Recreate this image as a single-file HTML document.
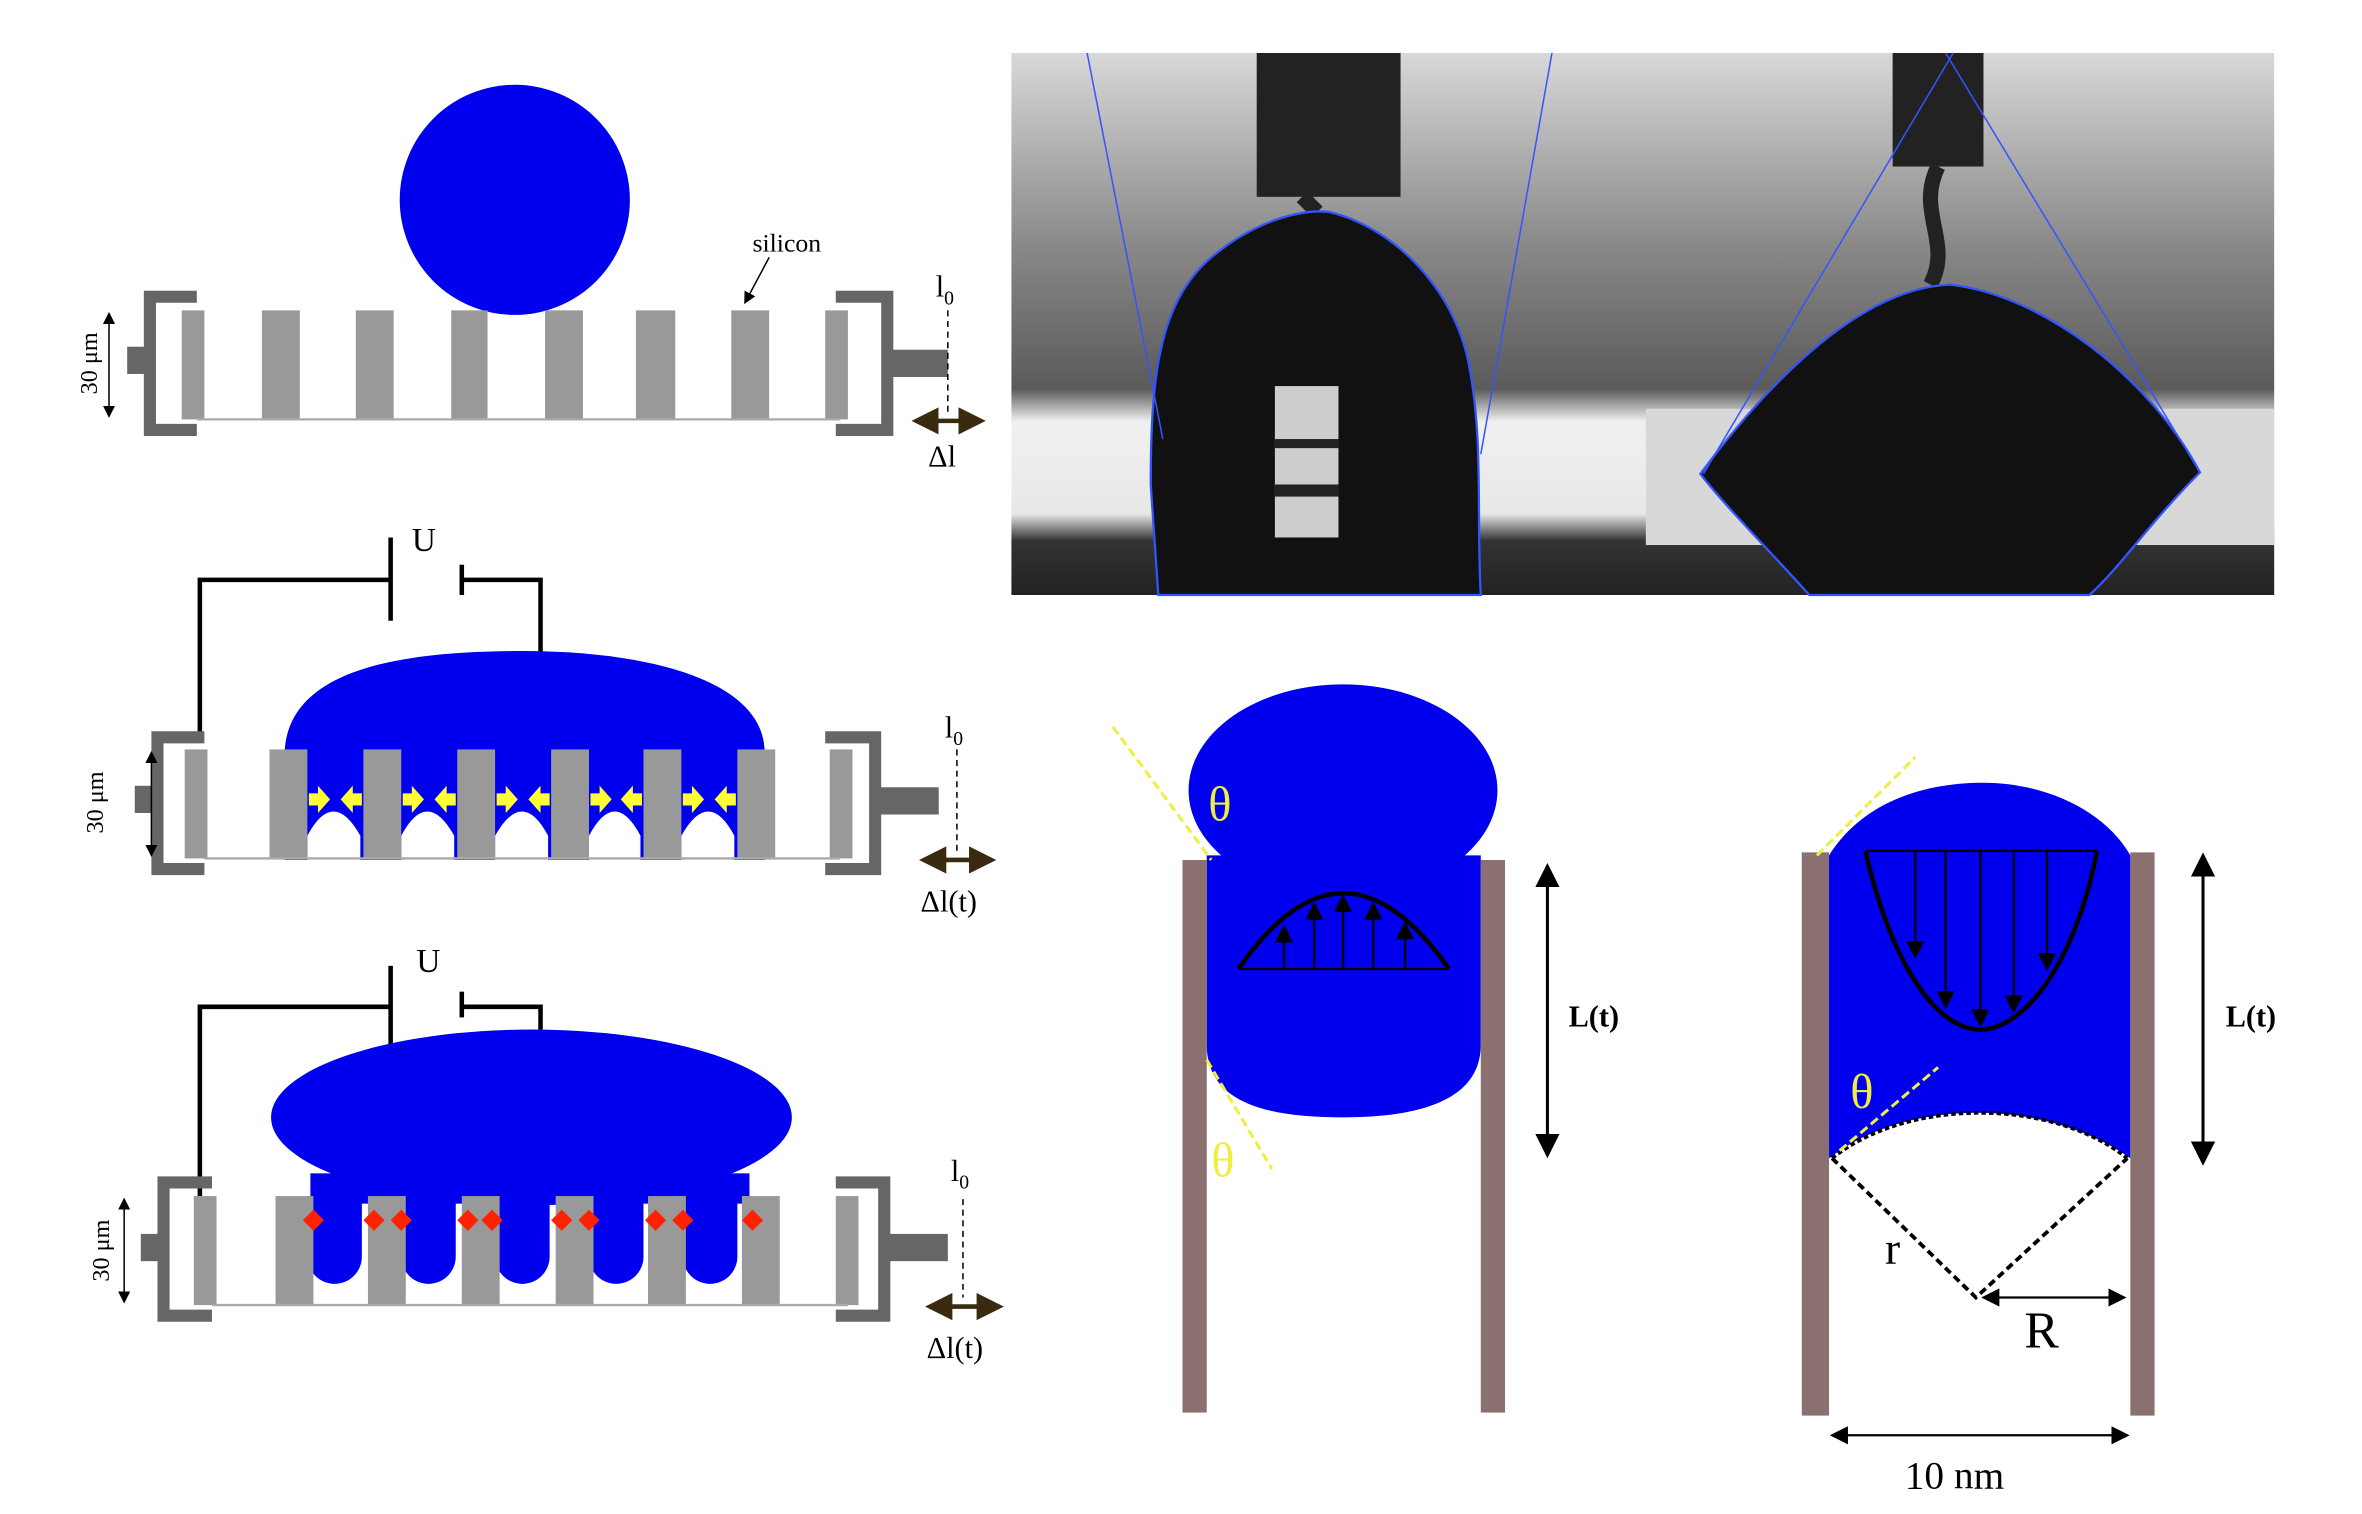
<!DOCTYPE html>
<html><head><meta charset="utf-8"><style>
html,body{margin:0;padding:0;background:#fff;}
svg{display:block;}
text{font-family:"Liberation Serif",serif;}
</style></head><body>
<svg width="2362" height="1514" viewBox="0 0 1560 1000" preserveAspectRatio="none" xmlns="http://www.w3.org/2000/svg">
<defs>
<linearGradient id="bg" x1="0" y1="0" x2="0" y2="1">
<stop offset="0" stop-color="#d8d8d8"/><stop offset="0.35" stop-color="#8a8a8a"/><stop offset="0.62" stop-color="#5a5a5a"/><stop offset="0.68" stop-color="#f0f0f0"/><stop offset="0.85" stop-color="#e8e8e8"/><stop offset="0.9" stop-color="#333"/><stop offset="1" stop-color="#222"/>
</linearGradient>
<marker id="ah" markerWidth="8" markerHeight="8" refX="7" refY="4" orient="auto"><path d="M0,0 L8,4 L0,8 z" fill="#000"/></marker>
<marker id="ahs" markerWidth="8" markerHeight="8" refX="1" refY="4" orient="auto"><path d="M8,0 L0,4 L8,8 z" fill="#000"/></marker>
<marker id="ab" markerWidth="6" markerHeight="6" refX="5" refY="3" orient="auto"><path d="M0,0 L6,3 L0,6 z" fill="#3a2a10"/></marker>
<marker id="abs" markerWidth="6" markerHeight="6" refX="1" refY="3" orient="auto"><path d="M6,0 L0,3 L6,6 z" fill="#3a2a10"/></marker>
</defs>

<!-- Panel 1 -->
<circle cx="340" cy="132" r="76" fill="#0000ee"/>
<g fill="#999">
<rect x="120" y="205" width="15" height="72"/><rect x="173" y="205" width="25" height="72"/><rect x="235" y="205" width="25" height="72"/><rect x="298" y="205" width="24" height="72"/><rect x="360" y="205" width="25" height="72"/><rect x="420" y="205" width="26" height="72"/><rect x="483" y="205" width="25" height="72"/><rect x="545" y="205" width="15" height="72"/>
</g>
<line x1="130" y1="277" x2="555" y2="277" stroke="#aaa" stroke-width="1.5"/>
<path d="M130,192 H95 V288 H130 V280 H103 V200 H130 Z" fill="#666"/>
<rect x="84" y="229" width="12" height="18" fill="#666"/>
<path d="M552,192 H590 V288 H552 V280 H582 V200 H552 Z" fill="#666"/>
<rect x="588" y="231" width="38" height="18" fill="#666"/>
<line x1="626" y1="205" x2="626" y2="272" stroke="#000" stroke-dasharray="4,3"/>
<line x1="605" y1="278" x2="648" y2="278" stroke="#3a2a10" stroke-width="3" marker-end="url(#ab)" marker-start="url(#abs)"/>
<text x="618" y="196" font-size="20">l<tspan font-size="13" dy="5">0</tspan></text>
<text x="613" y="308" font-size="20">Δl</text>
<text x="497" y="166" font-size="17">silicon</text>
<line x1="508" y1="170" x2="492" y2="200" stroke="#000" marker-end="url(#ah)"/>
<line x1="72" y1="207" x2="72" y2="275" stroke="#000" marker-end="url(#ah)" marker-start="url(#ahs)"/>
<text transform="translate(64,240) rotate(-90)" font-size="16" text-anchor="middle">30 μm</text>

<!-- Panel 2 -->
<path d="M132,490 V383 H258 M305,383 H357 V432" fill="none" stroke="#000" stroke-width="3"/>
<line x1="258" y1="355" x2="258" y2="410" stroke="#000" stroke-width="3"/>
<line x1="305" y1="373" x2="305" y2="393" stroke="#000" stroke-width="3"/>
<text x="272" y="364" font-size="22">U</text>
<path d="M188,497 C190,440 270,430 345,430 C430,430 505,450 505,497 Z" fill="#0000ee"/>
<rect x="188" y="495" width="317" height="73" fill="#0000ee"/>
<g fill="#fff">
<path d="M203,568 V552 Q220,520 238,552 V568Z"/><path d="M265,568 V552 Q282,520 300,552 V568Z"/><path d="M327,568 V552 Q345,520 362,552 V568Z"/><path d="M389,568 V552 Q406,520 423,552 V568Z"/><path d="M450,568 V552 Q468,520 485,552 V568Z"/>
</g>
<g fill="#999">
<rect x="122" y="495" width="15" height="72"/><rect x="178" y="495" width="25" height="72"/><rect x="240" y="495" width="25" height="72"/><rect x="302" y="495" width="25" height="72"/><rect x="364" y="495" width="25" height="72"/><rect x="425" y="495" width="25" height="72"/><rect x="487" y="495" width="25" height="72"/><rect x="548" y="495" width="15" height="72"/>
</g>
<line x1="135" y1="567" x2="555" y2="567" stroke="#aaa" stroke-width="1.5"/>
<path d="M135,483 H100 V578 H135 V570 H108 V491 H135 Z" fill="#666"/>
<rect x="89" y="519" width="12" height="18" fill="#666"/>
<path d="M545,483 H582 V578 H545 V570 H574 V491 H545 Z" fill="#666"/>
<rect x="580" y="520" width="40" height="18" fill="#666"/>
<g fill="#ffff33">
<path d="M204,524 h6 v-5 l8,9 l-8,9 v-5 h-6z"/><path d="M239,524 h-6 v-5 l-8,9 l8,9 v-5 h6z"/>
<path d="M266,524 h6 v-5 l8,9 l-8,9 v-5 h-6z"/><path d="M301,524 h-6 v-5 l-8,9 l8,9 v-5 h6z"/>
<path d="M328,524 h6 v-5 l8,9 l-8,9 v-5 h-6z"/><path d="M363,524 h-6 v-5 l-8,9 l8,9 v-5 h6z"/>
<path d="M390,524 h6 v-5 l8,9 l-8,9 v-5 h-6z"/><path d="M424,524 h-6 v-5 l-8,9 l8,9 v-5 h6z"/>
<path d="M451,524 h6 v-5 l8,9 l-8,9 v-5 h-6z"/><path d="M486,524 h-6 v-5 l-8,9 l8,9 v-5 h6z"/>
</g>
<line x1="632" y1="495" x2="632" y2="562" stroke="#000" stroke-dasharray="4,3"/>
<line x1="610" y1="568" x2="655" y2="568" stroke="#3a2a10" stroke-width="3" marker-end="url(#ab)" marker-start="url(#abs)"/>
<text x="624" y="487" font-size="20">l<tspan font-size="13" dy="5">0</tspan></text>
<text x="608" y="602" font-size="20">Δl(t)</text>
<line x1="100" y1="497" x2="100" y2="565" stroke="#000" marker-end="url(#ah)" marker-start="url(#ahs)"/>
<text transform="translate(68,530) rotate(-90)" font-size="16" text-anchor="middle">30 μm</text>

<!-- Panel 3 -->
<path d="M132,790 V665 H258 M305,665 H357 V680" fill="none" stroke="#000" stroke-width="3"/>
<line x1="258" y1="638" x2="258" y2="692" stroke="#000" stroke-width="3"/>
<line x1="305" y1="655" x2="305" y2="672" stroke="#000" stroke-width="3"/>
<text x="275" y="642" font-size="22">U</text>
<ellipse cx="351" cy="738" rx="172" ry="58" fill="#0000ee"/>
<g fill="#0000ee">
<rect x="205" y="775" width="290" height="20"/>
<path d="M203,790 V830 a18,18 0 0 0 36,0 V790Z"/><path d="M265,790 V830 a18,18 0 0 0 36,0 V790Z"/><path d="M327,790 V830 a18,18 0 0 0 36,0 V790Z"/><path d="M389,790 V830 a18,18 0 0 0 36,0 V790Z"/><path d="M451,790 V830 a18,18 0 0 0 36,0 V790Z"/>
</g>
<g fill="#999">
<rect x="128" y="790" width="15" height="72"/><rect x="182" y="790" width="25" height="72"/><rect x="243" y="790" width="25" height="72"/><rect x="305" y="790" width="25" height="72"/><rect x="367" y="790" width="25" height="72"/><rect x="428" y="790" width="25" height="72"/><rect x="490" y="790" width="25" height="72"/><rect x="552" y="790" width="15" height="72"/>
</g>
<line x1="140" y1="862" x2="560" y2="862" stroke="#aaa" stroke-width="1.5"/>
<path d="M140,777 H104 V873 H140 V865 H112 V785 H140 Z" fill="#666"/>
<rect x="93" y="815" width="12" height="18" fill="#666"/>
<path d="M552,777 H588 V873 H552 V865 H580 V785 H552 Z" fill="#666"/>
<rect x="586" y="815" width="40" height="18" fill="#666"/>
<g fill="#ff2200">
<path d="M200,806 l7,-7 l7,7 l-7,7z"/><path d="M240,806 l7,-7 l7,7 l-7,7z"/><path d="M258,806 l7,-7 l7,7 l-7,7z"/><path d="M302,806 l7,-7 l7,7 l-7,7z"/><path d="M318,806 l7,-7 l7,7 l-7,7z"/><path d="M364,806 l7,-7 l7,7 l-7,7z"/><path d="M382,806 l7,-7 l7,7 l-7,7z"/><path d="M426,806 l7,-7 l7,7 l-7,7z"/><path d="M444,806 l7,-7 l7,7 l-7,7z"/><path d="M490,806 l7,-7 l7,7 l-7,7z"/>
</g>
<line x1="636" y1="792" x2="636" y2="857" stroke="#000" stroke-dasharray="4,3"/>
<line x1="614" y1="863" x2="660" y2="863" stroke="#3a2a10" stroke-width="3" marker-end="url(#ab)" marker-start="url(#abs)"/>
<text x="628" y="780" font-size="20">l<tspan font-size="13" dy="5">0</tspan></text>
<text x="612" y="897" font-size="20">Δl(t)</text>
<line x1="82" y1="792" x2="82" y2="860" stroke="#000" marker-end="url(#ah)" marker-start="url(#ahs)"/>
<text transform="translate(72,826) rotate(-90)" font-size="16" text-anchor="middle">30 μm</text>

<!-- Photo -->
<rect x="668" y="35" width="834" height="358" fill="url(#bg)"/>
<rect x="1087" y="270" width="415" height="90" fill="#d8d8d8"/>
<rect x="830" y="35" width="95" height="95" fill="#222"/>
<rect x="1250" y="35" width="60" height="75" fill="#222"/>
<path d="M860,130 L870,140 M1280,110 C1265,140 1290,160 1275,188" stroke="#222" stroke-width="10" fill="none"/>
<path d="M765,393 L760,320 C760,250 765,200 800,170 C830,145 860,138 878,140 C920,150 960,190 970,240 C980,290 975,340 978,393 Z" fill="#111" stroke="#3355ff" stroke-width="1.5"/>
<rect x="842" y="255" width="42" height="100" fill="#eee" opacity="0.85"/>
<rect x="842" y="290" width="42" height="6" fill="#222"/><rect x="842" y="320" width="42" height="8" fill="#222"/>
<path d="M1123,313 C1170,250 1230,190 1288,188 C1350,195 1420,250 1453,312 C1420,345 1400,375 1380,393 L1195,393 C1170,365 1140,335 1123,313 Z" fill="#111" stroke="#3355ff" stroke-width="1.5"/>
<path d="M718,35 L768,290 M1025,35 L978,300 M1125,313 L1290,35 M1453,312 L1285,35" stroke="#3355ff" stroke-width="1"/>

<!-- Bottom left -->
<ellipse cx="887" cy="522" rx="102" ry="70" fill="#0000ee"/>
<path d="M797,565 H978 V690 C978,730 930,738 887,738 C840,738 797,730 797,690 Z" fill="#0000ee"/>
<rect x="781" y="568" width="16" height="365" fill="#8b7070"/>
<rect x="978" y="568" width="16" height="365" fill="#8b7070"/>
<path d="M818,640 Q887,540 957,640" fill="none" stroke="#000" stroke-width="3"/>
<line x1="818" y1="640" x2="957" y2="640" stroke="#000" stroke-width="1.5"/>
<g stroke="#000" stroke-width="1.5" marker-end="url(#ah)">
<line x1="848" y1="640" x2="848" y2="612"/><line x1="868" y1="640" x2="868" y2="597"/><line x1="887" y1="640" x2="887" y2="592"/><line x1="907" y1="640" x2="907" y2="597"/><line x1="928" y1="640" x2="928" y2="610"/>
</g>
<line x1="735" y1="480" x2="800" y2="568" stroke="#eeee44" stroke-width="2" stroke-dasharray="6,3"/>
<line x1="797" y1="700" x2="840" y2="772" stroke="#eeee44" stroke-width="2" stroke-dasharray="6,3"/>
<text x="798" y="542" font-size="32" fill="#eeee44">θ</text>
<text x="800" y="777" font-size="32" fill="#eeee44">θ</text>
<line x1="1022" y1="572" x2="1022" y2="763" stroke="#000" stroke-width="2" marker-end="url(#ah)" marker-start="url(#ahs)"/>
<text x="1036" y="678" font-size="20" font-weight="bold" font-family="Liberation Sans, sans-serif">L(t)</text>

<!-- Bottom right -->
<path d="M1208,565 C1230,530 1270,517 1310,517 C1350,517 1390,535 1407,565 V765 C1350,725 1260,725 1208,765 Z" fill="#0000ee"/>
<rect x="1190" y="563" width="18" height="372" fill="#8b7070"/>
<rect x="1407" y="563" width="16" height="372" fill="#8b7070"/>
<path d="M1210,765 C1260,725 1355,725 1405,765" fill="none" stroke="#000" stroke-width="2.5" stroke-dasharray="3,2"/>
<path d="M1210,765 L1305,857 L1405,765" fill="none" stroke="#000" stroke-width="2.5" stroke-dasharray="5,3"/>
<path d="M1232,562 C1250,640 1280,680 1308,680 C1335,680 1370,640 1385,562" fill="none" stroke="#000" stroke-width="3"/>
<line x1="1232" y1="562" x2="1385" y2="562" stroke="#000" stroke-width="1.5"/>
<g stroke="#000" stroke-width="1.5" marker-end="url(#ah)">
<line x1="1265" y1="562" x2="1265" y2="632"/><line x1="1285" y1="562" x2="1285" y2="665"/><line x1="1308" y1="562" x2="1308" y2="677"/><line x1="1330" y1="562" x2="1330" y2="668"/><line x1="1352" y1="562" x2="1352" y2="640"/>
</g>
<line x1="1200" y1="565" x2="1265" y2="500" stroke="#eeee44" stroke-width="2" stroke-dasharray="6,3"/>
<line x1="1215" y1="760" x2="1280" y2="705" stroke="#eeee44" stroke-width="2" stroke-dasharray="6,3"/>
<text x="1222" y="732" font-size="32" fill="#eeee44">θ</text>
<text x="1245" y="835" font-size="30">r</text>
<line x1="1310" y1="857" x2="1403" y2="857" stroke="#000" stroke-width="1.5" marker-end="url(#ah)" marker-start="url(#ahs)"/>
<text x="1337" y="890" font-size="34">R</text>
<line x1="1210" y1="948" x2="1405" y2="948" stroke="#000" stroke-width="1.5" marker-end="url(#ah)" marker-start="url(#ahs)"/>
<text x="1258" y="983" font-size="26">10  nm</text>
<line x1="1455" y1="565" x2="1455" y2="768" stroke="#000" stroke-width="2" marker-end="url(#ah)" marker-start="url(#ahs)"/>
<text x="1470" y="678" font-size="20" font-weight="bold" font-family="Liberation Sans, sans-serif">L(t)</text>
</svg>
</body></html>
